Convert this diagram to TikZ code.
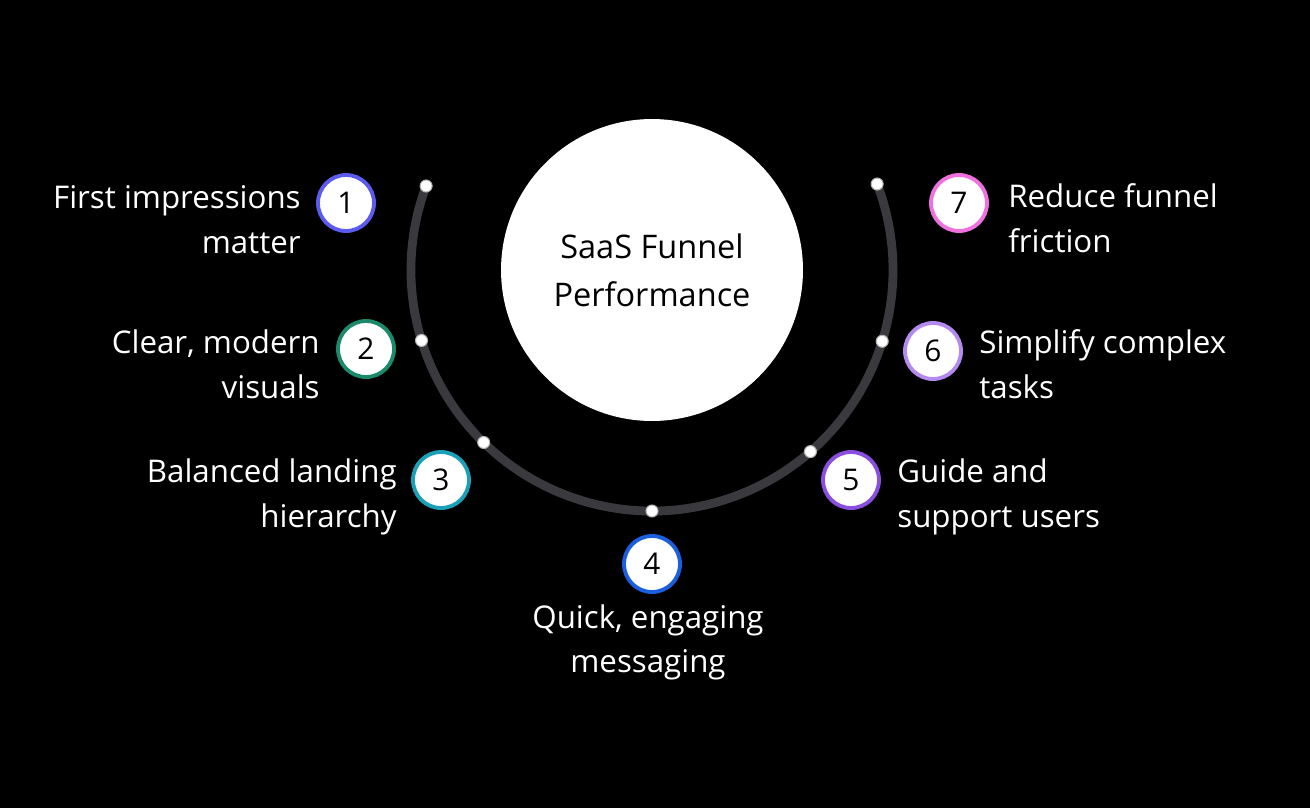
\documentclass[tikz,border=0pt]{standalone}
\usepackage{fontspec}
\setmainfont{Open Sans}
\usetikzlibrary{positioning,calc}
\definecolor{cOne}{HTML}{5B5BF0}
\definecolor{cTwo}{HTML}{1A8A6A}
\definecolor{cThree}{HTML}{1AA0B8}
\definecolor{cFour}{HTML}{1A5FE0}
\definecolor{cFive}{HTML}{8A4FE0}
\definecolor{cSix}{HTML}{B58AF0}
\definecolor{cSeven}{HTML}{F070E0}
\definecolor{arcgray}{HTML}{3A3A3E}
\begin{document}
\begin{tikzpicture}[x=0.02cm,y=-0.02cm,
  num/.style={circle,draw=#1,line width=2.2pt,fill=white,minimum size=1.12cm,inner sep=0pt,font=\fontsize{17}{20}\selectfont},
  dot/.style={circle,draw=gray!60,fill=white,line width=0.6pt,minimum size=0.24cm,inner sep=0pt},
  lbl/.style={text=white,font=\fontsize{17.8}{25.5}\selectfont,inner sep=0pt}]
\fill[black] (0,0) rectangle (1310,808);
\coordinate (c) at (652,270);
\draw[arcgray,line width=5pt] (c) ++(200:241) arc[start angle=200,end angle=-20,radius=241];
\node[circle,fill=white,minimum size=6.04cm,inner sep=0pt,font=\fontsize{18.5}{27.5}\selectfont,align=center] (hub) at (c) {SaaS Funnel\\Performance};
% dots on the arc
\foreach \a/\n in {-159.6/d1,163/d2,134.3/d3,90/d4,48.9/d5,17.2/d6,-20.9/d7}
  \node[dot] (\n) at ($(c)+(\a:241)$) {};
% numbered rings
\node[num=cOne]   (n1) at (346,203) {1};
\node[num=cTwo]   (n2) at (366,349) {2};
\node[num=cThree] (n3) at (441,480) {3};
\node[num=cFour]  (n4) at (652,564) {4};
\node[num=cFive]  (n5) at (851,480) {5};
\node[num=cSix]   (n6) at (933,351) {6};
\node[num=cSeven] (n7) at (959,203) {7};
% labels
\node[lbl,align=right,anchor=east] (t1) at (301,220) {First impressions\\matter};
\node[lbl,align=right,anchor=east] (t2) at (320,364) {Clear, modern\\visuals};
\node[lbl,align=right,anchor=east] (t3) at (397,497) {Balanced landing\\hierarchy};
\node[lbl,align=center,anchor=north] (t4) at (648,604) {Quick, engaging\\messaging};
\node[lbl,align=left,anchor=west] (t5) at (897,497) {Guide and\\support users};
\node[lbl,align=left,anchor=west] (t6) at (979,364) {Simplify complex\\tasks};
\node[lbl,align=left,anchor=west] (t7) at (1008,218) {Reduce funnel\\friction};
\end{tikzpicture}
\end{document}
